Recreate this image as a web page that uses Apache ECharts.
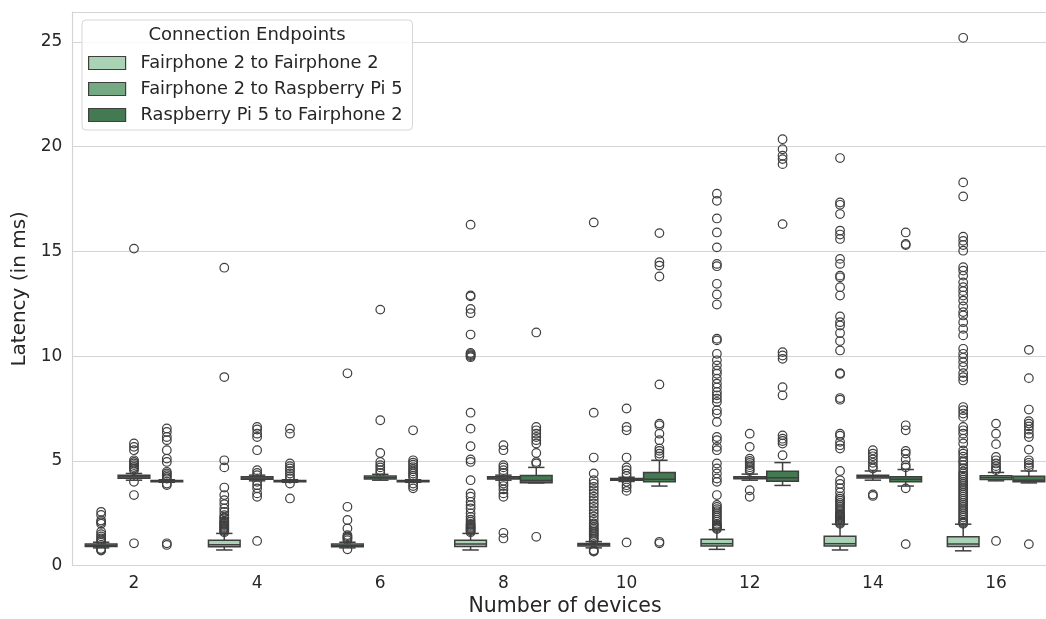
<!DOCTYPE html>
<html>
<head>
<meta charset="utf-8">
<script src="https://cdn.jsdelivr.net/npm/echarts@6/dist/echarts.min.js"></script>
<style>html,body{margin:0;padding:0;background:#fff}#c{width:1046px;height:619px}</style>
</head>
<body>
<div id="c"></div>
<script>
// ---------------- data ----------------
const categories = ['2', '4', '6', '8', '10', '12', '14', '16'];
const seriesNames = ['Fairphone 2 to Fairphone 2', 'Fairphone 2 to Raspberry Pi 5', 'Raspberry Pi 5 to Fairphone 2'];
const yTicks = [0, 5, 10, 15, 20, 25];

// Fairphone 2 -> Fairphone 2 : whisker low, Q1, median, Q3, whisker high
const fpfpLow = [0.85, 0.75, 0.85, 0.75, 0.85, 0.78, 0.75, 0.71];
const fpfpQ1  = [0.92, 0.90, 0.90, 0.92, 0.94, 0.94, 0.94, 0.92];
const fpfpMed = [0.97, 1.00, 0.96, 1.03, 1.00, 1.05, 1.05, 1.03];
const fpfpQ3  = [1.04, 1.22, 1.04, 1.22, 1.06, 1.26, 1.41, 1.38];
const fpfpHigh= [1.12, 1.54, 1.12, 1.54, 1.15, 1.72, 1.98, 1.98];

// Fairphone 2 -> Raspberry Pi 5
const fprpLow = [4.08, 4.05, 4.08, 4.08, 4.02, 4.08, 4.08, 4.05];
const fprpQ1  = [4.17, 4.13, 4.14, 4.14, 4.08, 4.15, 4.19, 4.11];
const fprpMed = [4.24, 4.18, 4.20, 4.19, 4.12, 4.19, 4.25, 4.20];
const fprpQ3  = [4.31, 4.24, 4.28, 4.24, 4.16, 4.25, 4.32, 4.29];
const fprpHigh= [4.40, 4.32, 4.36, 4.32, 4.22, 4.37, 4.52, 4.45];

// Raspberry Pi 5 -> Fairphone 2
const rpfpLow = [3.98, 3.98, 3.98, 3.95, 3.80, 3.83, 3.80, 3.95];
const rpfpQ1  = [4.00, 4.00, 4.00, 3.96, 4.00, 4.03, 4.00, 4.00];
const rpfpMed = [4.03, 4.03, 4.03, 4.06, 4.12, 4.20, 4.12, 4.08];
const rpfpQ3  = [4.07, 4.07, 4.06, 4.30, 4.45, 4.51, 4.24, 4.27];
const rpfpHigh= [4.10, 4.10, 4.10, 4.69, 5.03, 4.92, 4.59, 4.52];

// outliers per category
const fpfpOut = [
  [2.57, 2.42, 2.16, 2.08, 2.0, 1.62, 1.5, 1.4, 1.3, 1.22, 1.16, 0.8, 0.76, 0.72],
  [14.22, 9.0, 5.03, 4.69, 3.73, 3.37, 3.13, 2.94, 2.73, 2.57, 2.41, 2.3, 2.26, 2.15, 2.1, 2.05, 2.0, 1.95, 1.9, 1.85, 1.8, 1.75, 1.7, 1.65, 1.6],
  [9.18, 2.81, 2.18, 1.78, 1.46, 1.4, 1.35, 1.3, 1.22, 0.78],
  [16.27, 12.9, 12.85, 12.25, 12.05, 11.03, 10.15, 10.1, 10.05, 10.0, 9.95, 7.3, 6.54, 5.7, 5.07, 4.95, 4.08, 3.45, 3.29, 3.05, 2.89, 2.73, 2.5, 2.33, 2.2, 2.1, 2.0, 1.95, 1.9, 1.85, 1.8, 1.75, 1.7, 1.65, 1.6],
  [16.38, 7.3, 5.16, 4.4, 4.08, 3.92, 3.76, 3.6, 3.45, 3.29, 3.13, 2.97, 2.81, 2.65, 2.5, 2.35, 2.18, 2.02, 1.95, 1.86, 1.78, 1.7, 1.62, 1.54, 1.46, 1.38, 1.3, 1.22, 0.74, 0.7, 0.67],
  [17.75, 17.41, 16.57, 15.9, 15.19, 14.4, 14.29, 13.45, 12.94, 12.46, 10.83, 10.75, 10.11, 9.8, 9.56, 9.32, 9.16, 8.92, 8.69, 8.5, 8.29, 8.13, 7.97, 7.81, 7.42, 7.26, 6.86, 6.14, 5.99, 5.67, 5.51, 4.88, 4.64, 4.4, 4.16, 4.0, 3.37, 2.9, 2.8, 2.7, 2.6, 2.5, 2.4, 2.3, 2.2, 2.1, 2.0, 1.95, 1.9, 1.85, 1.8, 1.75],
  [19.45, 17.33, 17.22, 16.78, 15.99, 15.8, 15.59, 14.64, 14.4, 13.84, 13.76, 13.29, 12.89, 11.89, 11.62, 11.46, 11.1, 10.72, 10.27, 9.19, 9.15, 8.0, 7.92, 6.3, 6.2, 5.91, 5.75, 5.59, 4.52, 4.08, 3.9, 3.7, 3.5, 3.3, 3.2, 3.1, 3.0, 2.9, 2.8, 2.7, 2.6, 2.5, 2.45, 2.4, 2.35, 2.3, 2.25, 2.2, 2.15, 2.1, 2.05, 2.0],
  [25.19, 18.29, 17.62, 15.7, 15.5, 15.3, 15.03, 14.24, 14.08, 13.84, 13.52, 13.29, 13.1, 12.89, 12.65, 12.37, 12.1, 11.94, 11.62, 11.3, 10.99, 10.35, 10.11, 9.92, 9.71, 9.48, 9.19, 9.0, 8.84, 7.57, 7.42, 7.26, 7.1, 6.62, 6.46, 6.3, 6.06, 5.83, 5.5, 5.35, 5.2, 5.03, 4.95, 4.8, 4.65, 4.5, 4.4, 4.3, 4.2, 4.1, 4.0, 3.9, 3.8, 3.7, 3.6, 3.5, 3.4, 3.3, 3.2, 3.1, 3.0, 2.9, 2.8, 2.7, 2.6, 2.5, 2.4, 2.3, 2.2, 2.1, 2.05, 2.0]
];
const fprpOut = [
  [15.13, 5.83, 5.67, 5.51, 5.03, 4.95, 4.88, 4.8, 4.71, 4.64, 4.56, 4.0, 3.37, 1.07],
  [6.62, 6.5, 6.3, 6.14, 5.51, 4.56, 4.43, 4.32, 4.0, 3.84, 3.69, 3.45, 3.29, 1.18],
  [12.22, 6.94, 5.38, 4.95, 4.8, 4.69, 4.56, 4.43],
  [5.75, 5.51, 4.8, 4.69, 4.56, 4.43, 4.05, 3.92, 3.8, 3.64, 3.45, 3.29, 1.57, 1.3],
  [7.5, 6.62, 6.46, 5.16, 4.69, 4.56, 4.4, 4.28, 4.0, 3.84, 3.73, 3.57, 1.11],
  [6.3, 5.67, 5.11, 5.0, 4.9, 4.8, 4.7, 4.6, 4.52, 3.6, 3.29],
  [5.51, 5.35, 5.22, 5.07, 4.91, 4.75, 4.64, 3.4, 3.33],
  [6.78, 6.3, 5.8, 5.19, 5.03, 4.88, 4.75, 4.64, 4.56, 1.18]
];
const rpfpOut = [
  [6.55, 6.38, 6.14, 5.99, 5.51, 5.11, 4.95, 4.48, 4.4, 4.32, 4.24, 4.16, 3.92, 3.85, 1.07, 0.99],
  [6.54, 6.3, 4.88, 4.75, 4.64, 4.52, 4.4, 4.27, 4.16, 3.92, 3.21],
  [6.46, 5.03, 4.92, 4.82, 4.7, 4.6, 4.5, 4.4, 4.3, 4.21, 3.92, 3.8, 3.69],
  [11.13, 6.62, 6.46, 6.3, 6.14, 5.99, 5.83, 5.38, 4.95, 4.88, 1.38],
  [15.87, 14.48, 14.32, 13.8, 8.65, 6.78, 6.7, 6.3, 5.99, 5.59, 5.48, 5.35, 5.22, 1.14, 1.07],
  [20.35, 19.87, 19.56, 19.4, 19.16, 16.3, 10.19, 10.03, 9.87, 8.52, 8.13, 6.22, 6.06, 5.95, 5.83, 5.27],
  [15.9, 15.35, 15.3, 6.7, 6.46, 5.48, 5.35, 5.07, 4.8, 4.69, 3.69, 1.03],
  [10.3, 8.95, 7.45, 6.9, 6.78, 6.65, 6.49, 6.3, 6.14, 5.54, 5.03, 4.91, 4.8, 4.69, 1.03]
];

// ---------------- styling ----------------
const fillColors = ['#a9d3b4', '#74a984', '#437a51'];
const edgeColor = '#3f3f3f';
const textColor = '#262626';
const gridColor = '#d4d4d4';
const FONT = 'DejaVu Sans';

const boxStats = [
  [fpfpLow, fpfpQ1, fpfpMed, fpfpQ3, fpfpHigh],
  [fprpLow, fprpQ1, fprpMed, fprpQ3, fprpHigh],
  [rpfpLow, rpfpQ1, rpfpMed, rpfpQ3, rpfpHigh]
];
const outliers = [fpfpOut, fprpOut, rpfpOut];

function boxRender(hue) {
  return function (params, api) {
    const cat = api.value(0);
    const band = api.size([1, 0])[0];
    const w = band * 0.8 / 3;
    const cx = api.coord([cat, 0])[0] + (hue - 1) * w;
    const yy = i => api.coord([cat, api.value(i)])[1];
    const yLo = yy(1), yQ1 = yy(2), yMed = yy(3), yQ3 = yy(4), yHi = yy(5);
    const half = w / 2 - 0.6;
    const cap = w / 4;
    const ls = { stroke: edgeColor, lineWidth: 1.5 };
    return {
      type: 'group',
      children: [
        { type: 'line', shape: { x1: cx, y1: yQ3, x2: cx, y2: yHi }, style: ls },
        { type: 'line', shape: { x1: cx, y1: yQ1, x2: cx, y2: yLo }, style: ls },
        { type: 'line', shape: { x1: cx - cap, y1: yHi, x2: cx + cap, y2: yHi }, style: ls },
        { type: 'line', shape: { x1: cx - cap, y1: yLo, x2: cx + cap, y2: yLo }, style: ls },
        { type: 'rect', shape: { x: cx - half, y: yQ3, width: 2 * half, height: Math.max(yQ1 - yQ3, 0.5) },
          style: { fill: fillColors[hue], stroke: edgeColor, lineWidth: 1.5 } },
        { type: 'line', shape: { x1: cx - half, y1: yMed, x2: cx + half, y2: yMed }, style: ls }
      ]
    };
  };
}
function outRender(hue) {
  return function (params, api) {
    const cat = api.value(0);
    const band = api.size([1, 0])[0];
    const w = band * 0.8 / 3;
    const p = api.coord([cat, api.value(1)]);
    return {
      type: 'circle',
      shape: { cx: p[0] + (hue - 1) * w, cy: p[1], r: 4.3 },
      style: { fill: 'none', stroke: edgeColor, lineWidth: 1.2 }
    };
  };
}

const series = [];
for (let h = 0; h < 3; h++) {
  const st = boxStats[h];
  const data = categories.map((c, i) => [i, st[0][i], st[1][i], st[2][i], st[3][i], st[4][i]]);
  series.push({
    name: seriesNames[h], type: 'custom', renderItem: boxRender(h),
    itemStyle: { color: fillColors[h] },
    encode: { x: 0, y: [1, 2, 3, 4, 5] }, data: data, z: 3, clip: false
  });
}
for (let h = 0; h < 3; h++) {
  const pts = [];
  outliers[h].forEach((arr, i) => arr.forEach(v => pts.push([i, v])));
  series.push({
    name: seriesNames[h], type: 'custom', renderItem: outRender(h),
    itemStyle: { color: fillColors[h] },
    encode: { x: 0, y: 1 }, data: pts, z: 2, clip: false
  });
}

const chart = echarts.init(document.getElementById('c'), null, { renderer: 'canvas' });
chart.setOption({
  animation: false,
  backgroundColor: '#ffffff',
  textStyle: { fontFamily: FONT },
  grid: { left: 72.4, width: 985.2, top: 12, height: 553.7, containLabel: false, outerBoundsMode: 'none' },
  xAxis: {
    type: 'category', data: categories, boundaryGap: true,
    name: 'Number of devices', nameLocation: 'middle', nameGap: 30,
    nameTextStyle: { fontFamily: FONT, fontSize: 20.5, color: textColor },
    axisLine: { show: true, lineStyle: { color: gridColor, width: 1.2 } },
    axisTick: { show: false },
    axisLabel: { fontFamily: FONT, fontSize: 17, color: textColor, margin: 9 },
    splitLine: { show: false }
  },
  yAxis: {
    type: 'value', min: 0, max: 26.42, interval: 5,
    name: 'Latency (in ms)', nameLocation: 'middle', nameGap: 40,
    nameTextStyle: { fontFamily: FONT, fontSize: 20, color: textColor },
    axisLine: { show: true, lineStyle: { color: gridColor, width: 1.2 } },
    axisTick: { show: false },
    axisLabel: {
      fontFamily: FONT, fontSize: 17, color: textColor, margin: 10,
      formatter: v => (yTicks.indexOf(v) >= 0 ? String(v) : '')
    },
    splitLine: { show: true, lineStyle: { color: gridColor, width: 1.2 } }
  },
  legend: {
    orient: 'vertical', left: 88, top: 54, itemGap: 8,
    itemWidth: 37, itemHeight: 13, icon: 'rect', padding: 0, z: 6,
    textStyle: { fontFamily: FONT, fontSize: 17.8, color: textColor, lineHeight: 18, padding: [0, 0, 0, 10] },
    data: seriesNames.map((n, i) => ({
      name: n, icon: 'rect',
      itemStyle: { color: fillColors[i], borderColor: edgeColor, borderWidth: 1.2 }
    }))
  },
  graphic: [
    { type: 'rect', z: 5, x: 82, y: 20, shape: { width: 330.5, height: 110, r: 4 },
      style: { fill: 'rgba(255,255,255,0.85)', stroke: '#d6d6d6', lineWidth: 1 } },
    { type: 'text', z: 6, x: 247, y: 35,
      style: { text: 'Connection Endpoints', fill: textColor, font: '18px "DejaVu Sans"', align: 'center', verticalAlign: 'middle' } }
  ],
  series: series
});
</script>
</body>
</html>
